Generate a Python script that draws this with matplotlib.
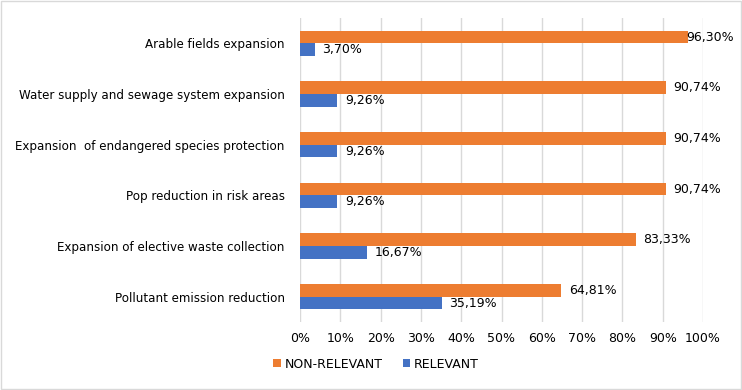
import matplotlib.pyplot as plt
import numpy as np

# Данные (сверху вниз как на картинке)
categories = [
    "Arable fields expansion",
    "Water supply and sewage system expansion",
    "Expansion  of endangered species protection",
    "Pop reduction in risk areas",
    "Expansion of elective waste collection",
    "Pollutant emission reduction",
]
non_relevant = [96.30, 90.74, 90.74, 90.74, 83.33, 64.81]
relevant = [3.70, 9.26, 9.26, 9.26, 16.67, 35.19]

ORANGE = "#ED7D31"
BLUE = "#4472C4"

plt.rcParams['font.family'] = ['DejaVu Sans']

fig = plt.figure(figsize=(7.42, 3.9), dpi=100)
ax = fig.add_axes([300 / 742, 1 - 322 / 390, 403 / 742, 304 / 390])

n = len(categories)
y = np.arange(n)[::-1]
h = 0.25
FS = 9

ax.barh(y + h / 2, non_relevant, height=h, color=ORANGE, label="NON-RELEVANT", zorder=3)
ax.barh(y - h / 2, relevant, height=h, color=BLUE, label="RELEVANT", zorder=3)

def fmt(v):
    return f"{v:.2f}%".replace(".", ",")

for yi, v in zip(y, non_relevant):
    # подпись не должна вылезать за рамку картинки
    dx = -1 if v > 95 else 5.5
    ax.annotate(fmt(v), (v, yi + h / 2), xytext=(dx, 0), textcoords="offset points",
                va="center", ha="left", fontsize=FS, color="#000000", zorder=4)
for yi, v in zip(y, relevant):
    ax.annotate(fmt(v), (v, yi - h / 2), xytext=(5.5, 0), textcoords="offset points",
                va="center", ha="left", fontsize=FS, color="#000000", zorder=4)

ax.set_xlim(0, 100)
ax.set_ylim(-0.5, n - 0.5)
ax.set_xticks(np.arange(0, 101, 10))
ax.set_xticklabels([f"{t}%" for t in range(0, 101, 10)], fontsize=FS)
ax.set_yticks(y)
ax.set_yticklabels(categories, fontsize=8.6)
ax.tick_params(axis="y", length=0, pad=11, colors="#000000")
ax.tick_params(axis="x", length=0, pad=7, colors="#000000")
ax.xaxis.grid(True, color="#D9D9D9", linewidth=1, zorder=0)
for s in ax.spines.values():
    s.set_visible(False)

handles, labels = ax.get_legend_handles_labels()
fig.legend(handles, labels, loc="center", bbox_to_anchor=(376 / 742, 1 - 364 / 390),
           ncol=2, frameon=False, fontsize=FS, handlelength=0.6, handleheight=0.6,
           handletextpad=0.3, columnspacing=1.6)

# Рамка вокруг всей картинки
fig.patches.append(plt.Rectangle((0.002, 0.003), 0.996, 0.994, transform=fig.transFigure,
                                 fill=False, edgecolor="#D9D9D9", linewidth=1))

fig.savefig("out.png", dpi=100)
